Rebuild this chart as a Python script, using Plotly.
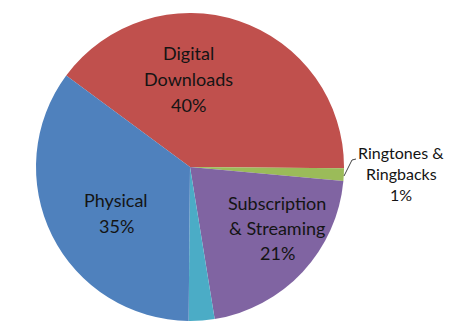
import plotly.graph_objects as go

categories = ["Digital Downloads", "Ringtones & Ringbacks", "Subscription & Streaming", "Other", "Physical"]
values = [40, 1.3, 21, 2.7, 35]
colors = ["#C0504D", "#9BBB59", "#8064A2", "#4BACC6", "#4F81BD"]
# label line breaks, as shown in the chart (None = no label)
label_lines = [["Digital", "Downloads"], ["Ringtones &", "Ringbacks"], ["Subscription", "& Streaming"], None, ["Physical"]]
source_text = "Source: RIAA"

W, H = 450, 321
# label placement (pixel centers), font sizes, line spacing
label_pos = [(188, 79), (401, 174), (277, 228), None, (116, 213)]
label_size = [18, 16, 18, None, 18]
label_gap = [26, 21, 25, None, 26]

fig = go.Figure(go.Pie(
    labels=categories,
    values=values,
    sort=False,
    direction="clockwise",
    rotation=306.5,
    marker=dict(colors=colors, line=dict(width=0)),
    textinfo="none",
    hoverinfo="label+percent",
    showlegend=False,
    domain=dict(x=[36 / W, 344 / W], y=[0, 308 / H]),
))

annotations = []
for lines, val, pos, size, gap in zip(label_lines, values, label_pos, label_size, label_gap):
    if lines is None:
        continue
    all_lines = lines + [f"{val:.0f}%"]
    n = len(all_lines)
    for i, t in enumerate(all_lines):
        annotations.append(dict(
            x=pos[0] / W, y=1 - pos[1] / H, xref="paper", yref="paper",
            text=t, showarrow=False, xanchor="center", yanchor="middle",
            yshift=-(i - (n - 1) / 2) * gap,
            font=dict(family="Lato", size=size, color="#141414"),
        ))

annotations.append(dict(
    x=190 / W, y=1, xref="paper", yref="paper", text=source_text, showarrow=False,
    xanchor="center", yanchor="bottom", yshift=-5,
    font=dict(family="Lato", size=16, color="#141414"),
))

# leader line for the small slice label
shapes = [dict(
    type="path", xref="paper", yref="paper",
    path=f"M {344 / W} {1 - 176 / H} L {352 / W} {1 - 160 / H} L {356 / W} {1 - 159 / H}",
    line=dict(color="#444444", width=1),
)]

fig.update_layout(
    width=W, height=H,
    margin=dict(l=0, r=0, t=0, b=0),
    paper_bgcolor="white", plot_bgcolor="white",
    annotations=annotations,
    shapes=shapes,
)

fig.write_html("out.html")
